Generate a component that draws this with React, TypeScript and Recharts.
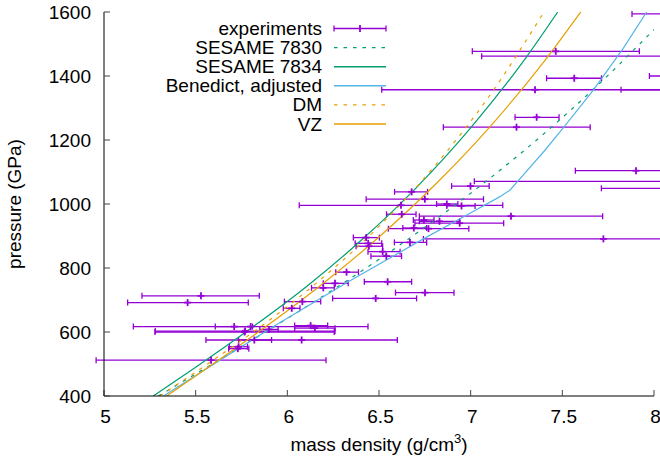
import React from 'react';
import { ComposedChart, Line, Scatter, XAxis, YAxis, ErrorBar, Legend } from 'recharts';

const FONT = '"Liberation Sans", Arial, Helvetica, sans-serif';
const FS = 19;
const EXP_COLOR = '#9400d3';
const GREEN = '#009e73';
const BLUE = '#56b4e9';
const ORANGE = '#e69f00';

const xTicks = [5, 5.5, 6, 6.5, 7, 7.5, 8];
const yTicks = [400, 600, 800, 1000, 1200, 1400, 1600];

// experiments: centre density, pressure, density lower / upper bound
const expDensity = [8.1, 7.464, 8.3, 8.1, 7.565, 7.351, 8.3, 7.36, 7.25, 7.902, 8.3, 6.999, 8.2, 6.678, 6.75, 6.62, 6.87, 6.95, 6.624, 7.22, 6.745, 6.83, 6.94, 6.77, 6.69, 6.43, 7.724, 6.441, 6.445, 6.669, 6.52, 6.54, 6.323, 6.547, 6.26, 6.196, 6.751, 6.482, 5.529, 5.456, 6.082, 6.024, 6.127, 5.8, 5.71, 6.15, 5.767, 5.77, 5.9, 6.078, 5.82, 5.734, 5.73, 5.584];
const expPressure = [1594, 1477, 1462, 1400, 1393, 1357, 1357, 1271, 1240, 1104, 1071, 1056, 1049, 1038, 1015, 996, 1000, 994, 968, 962, 950, 946, 940, 923, 925, 895, 891, 877, 868, 880, 851, 837, 787, 757, 752, 738, 723, 705, 713, 692, 695, 674, 620, 617, 617, 612, 600, 603, 608, 575, 575, 554, 548, 512];
const expDensityLow = [7.88, 7.009, 7.06, 7.975, 7.414, 6.515, 7.82, 7.242, 6.851, 7.571, 7.02, 6.896, 7.713, 6.585, 6.43, 6.065, 6.814, 6.87, 6.541, 6.72, 6.687, 6.72, 6.696, 6.551, 6.63, 6.36, 6.742, 6.37, 6.375, 6.584, 6.44, 6.456, 6.264, 6.42, 6.196, 6.132, 6.59, 6.247, 5.207, 5.129, 5.984, 5.978, 6.04, 5.16, 5.607, 6.04, 5.278, 5.28, 5.85, 5.556, 5.734, 5.684, 5.68, 4.957];
const expDensityHigh = [8.32, 7.92, 9.54, 8.225, 7.714, 8.19, 8.78, 7.482, 7.652, 8.233, 9.58, 7.101, 8.687, 6.765, 7.07, 7.175, 6.93, 7.024, 6.702, 7.72, 6.8, 6.94, 7.18, 6.99, 6.76, 6.502, 8.706, 6.515, 6.52, 6.76, 6.615, 6.623, 6.388, 6.678, 6.332, 6.256, 6.909, 6.705, 5.847, 5.787, 6.182, 6.069, 6.22, 6.44, 5.81, 6.26, 6.256, 6.26, 5.95, 6.6, 5.914, 5.783, 5.79, 6.211];

const sesame7830Density = [5.296, 5.6, 5.9, 6.2, 6.5, 6.8, 7.1, 7.4, 7.7, 8.0];
const sesame7830Pressure = [400, 503, 607, 714, 827, 948, 1078, 1220, 1375, 1545];

const sesame7834Density = [5.269, 5.5, 5.8, 6.1, 6.4, 6.7, 7.0, 7.3, 7.475];
const sesame7834Pressure = [400, 490, 611, 740, 885, 1049, 1238, 1456, 1600];

const benedictDensity = [5.324, 5.6, 5.938, 6.342, 6.742, 6.942, 7.16, 7.215, 7.26, 7.405, 7.505, 7.669, 7.833, 7.96];
const benedictPressure = [400, 500, 622, 760, 891, 954, 1023, 1044, 1073, 1168, 1238, 1356, 1487, 1600];

const dmDensity = [5.305, 5.6, 5.9, 6.2, 6.5, 6.8, 7.1, 7.4];
const dmPressure = [400, 514, 636, 773, 930, 1116, 1336, 1600];

const vzDensity = [5.342, 5.6, 5.9, 6.2, 6.5, 6.8, 7.1, 7.4, 7.6];
const vzPressure = [400, 502, 624, 754, 897, 1057, 1238, 1445, 1600];

const toPoints = (xs: number[], ys: number[]) => xs.map((x, i) => ({ x, y: ys[i] }));

const expData = expDensity.map((x, i) => ({
  x,
  y: expPressure[i],
  errX: [x - expDensityLow[i], expDensityHigh[i] - x],
}));

const curves = [
  { name: 'SESAME 7830', color: GREEN, dash: '3.5 6', data: toPoints(sesame7830Density, sesame7830Pressure), type: 'monotone' },
  { name: 'SESAME 7834', color: GREEN, dash: undefined, data: toPoints(sesame7834Density, sesame7834Pressure), type: 'monotone' },
  { name: 'Benedict, adjusted', color: BLUE, dash: undefined, data: toPoints(benedictDensity, benedictPressure), type: 'linear' },
  { name: 'DM', color: ORANGE, dash: '3.5 6', data: toPoints(dmDensity, dmPressure), type: 'monotone' },
  { name: 'VZ', color: ORANGE, dash: undefined, data: toPoints(vzDensity, vzPressure), type: 'monotone' },
];

const legendItems = ['experiments', ...curves.map((c) => c.name)];

const PlusShape = (props: any) => {
  const { cx, cy } = props;
  if (cx == null || cy == null || isNaN(cx) || isNaN(cy)) return <g />;
  return (
    <g stroke={EXP_COLOR} strokeWidth={1.8}>
      <line x1={cx - 3.5} y1={cy} x2={cx + 3.5} y2={cy} />
      <line x1={cx} y1={cy - 3.5} x2={cx} y2={cy + 3.5} />
    </g>
  );
};

const XTick = (p: any) => (
  <text x={p.x + 1.5} y={p.y} textAnchor="middle" fontFamily={FONT} fontSize={FS} fill="#000">
    {p.payload.value}
  </text>
);

const YTick = (p: any) => (
  <text x={p.x} y={p.y + 7} textAnchor="end" fontFamily={FONT} fontSize={FS} fill="#000">
    {p.payload.value}
  </text>
);

const NoTick = () => <g />;

const XLabel = (p: any) => {
  const vb = p.viewBox;
  return (
    <text x={vb.x + vb.width / 2} y={vb.y + 55} textAnchor="middle" fontFamily={FONT} fontSize={FS} fill="#000">
      <tspan>mass density (g/cm</tspan>
      <tspan dy={-8} fontSize={13}>3</tspan>
      <tspan dy={8}>)</tspan>
    </text>
  );
};

const YLabel = (p: any) => {
  const vb = p.viewBox;
  const cy = vb.y + vb.height / 2;
  return (
    <text x={21} y={cy} transform={`rotate(-90, 21, ${cy})`} textAnchor="middle" fontFamily={FONT} fontSize={FS} fill="#000">
      pressure (GPa)
    </text>
  );
};

const LegendBox = () => {
  const rowH = 19.1;
  const textX = 322;
  const x1 = 334;
  const x2 = 386;
  return (
    <svg width={400} height={140} style={{ display: 'block' }}>
      {legendItems.map((name, i) => {
        const base = 35 + i * rowH;
        const ly = base - 6.5;
        let sample: React.ReactNode;
        if (i === 0) {
          sample = (
            <g stroke={EXP_COLOR} strokeWidth={1.3}>
              <line x1={x1} y1={ly} x2={x2} y2={ly} />
              <line x1={x1} y1={ly - 3} x2={x1} y2={ly + 3} />
              <line x1={x2} y1={ly - 3} x2={x2} y2={ly + 3} />
              <line x1={(x1 + x2) / 2} y1={ly - 3.5} x2={(x1 + x2) / 2} y2={ly + 3.5} strokeWidth={1.8} />
            </g>
          );
        } else {
          const c = curves[i - 1];
          sample = <line x1={x1} y1={ly} x2={x2} y2={ly} stroke={c.color} strokeWidth={1.4} strokeDasharray={c.dash} />;
        }
        return (
          <g key={name}>
            <text x={textX} y={base} textAnchor="end" fontFamily={FONT} fontSize={FS} fill="#000">
              {name}
            </text>
            {sample}
          </g>
        );
      })}
    </svg>
  );
};

export default function App() {
  return (
    <div style={{ position: 'absolute', left: 0, top: 0, width: 660, height: 459, background: '#fff' }}>
      <ComposedChart width={660} height={459} margin={{ top: 12, right: 6, bottom: 0, left: 0 }}>
        <XAxis
          xAxisId="main"
          type="number"
          dataKey="x"
          domain={[5, 8]}
          ticks={xTicks}
          allowDataOverflow
          height={63}
          axisLine={{ stroke: '#000', strokeWidth: 1 }}
          tickLine={{ stroke: '#444' }}
          tickSize={-6}
          tickMargin={33}
          tick={XTick}
          interval={0}
          label={<XLabel />}
        />
        <XAxis
          xAxisId="top"
          orientation="top"
          type="number"
          dataKey="x"
          domain={[5, 8]}
          ticks={xTicks}
          allowDataOverflow
          height={0}
          axisLine={{ stroke: '#000', strokeWidth: 1 }}
          tickLine={{ stroke: '#444' }}
          tickSize={-6}
          tick={NoTick}
          interval={0}
        />
        <YAxis
          yAxisId="main"
          type="number"
          dataKey="y"
          domain={[400, 1600]}
          ticks={yTicks}
          allowDataOverflow
          width={104}
          axisLine={{ stroke: '#000', strokeWidth: 1 }}
          tickLine={{ stroke: '#444' }}
          tickSize={-6}
          tickMargin={19}
          tick={YTick}
          interval={0}
          label={<YLabel />}
        />
        <YAxis
          yAxisId="right"
          orientation="right"
          type="number"
          dataKey="y"
          domain={[400, 1600]}
          ticks={yTicks}
          allowDataOverflow
          width={0}
          axisLine={{ stroke: '#000', strokeWidth: 1 }}
          tickLine={{ stroke: '#444' }}
          tickSize={-6}
          tick={NoTick}
          interval={0}
        />
        <Scatter
          xAxisId="main"
          yAxisId="main"
          name="experiments"
          data={expData}
          dataKey="y"
          shape={PlusShape}
          isAnimationActive={false}
        >
          <ErrorBar dataKey="errX" direction="x" width={3} stroke={EXP_COLOR} strokeWidth={1.3} />
        </Scatter>
        {curves.map((c) => (
          <Line
            key={c.name}
            xAxisId="main"
            yAxisId="main"
            name={c.name}
            data={c.data}
            dataKey="y"
            type={c.type as any}
            stroke={c.color}
            strokeWidth={1.2}
            strokeDasharray={c.dash}
            dot={false}
            activeDot={false}
            isAnimationActive={false}
          />
        ))}
        <Legend
          layout="horizontal"
          align="center"
          verticalAlign="middle"
          content={<LegendBox />}
          wrapperStyle={{ left: 0, top: 0, width: 400, height: 140 }}
        />
      </ComposedChart>
    </div>
  );
}
